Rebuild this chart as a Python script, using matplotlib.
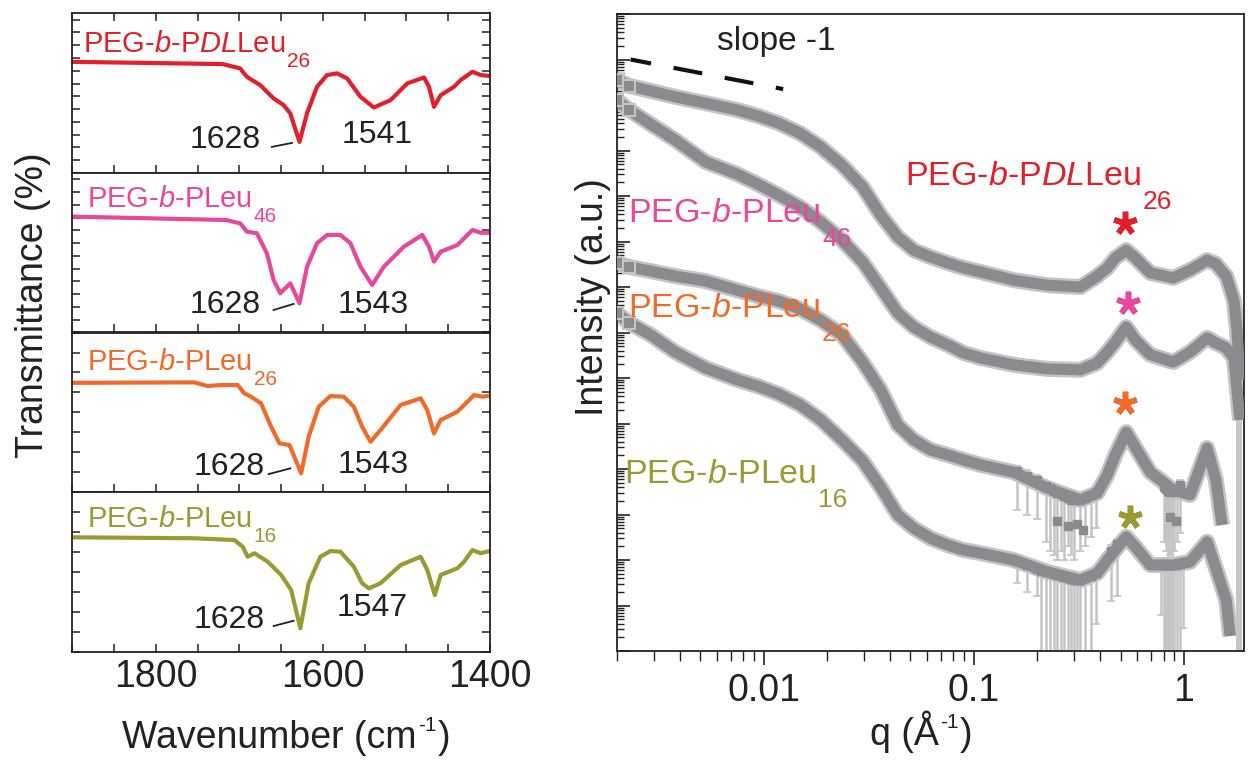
import numpy as np
import matplotlib
matplotlib.use('Agg')
import matplotlib.pyplot as plt
from matplotlib.transforms import IdentityTransform
from matplotlib.ticker import MultipleLocator, FixedLocator, NullFormatter, LogLocator, FuncFormatter

plt.rcParams['font.family'] = 'Liberation Sans'
plt.rcParams['axes.unicode_minus'] = False
plt.rcParams['mathtext.fontset'] = 'custom'
plt.rcParams['mathtext.rm'] = 'Liberation Sans'
plt.rcParams['mathtext.it'] = 'Liberation Sans:italic'

# ---------------- FTIR data (wavenumber, transmittance in panel units 0-100) ----------------
wn_dl26 = [1900, 1720, 1699, 1691, 1675, 1659, 1647, 1639, 1628, 1619, 1607, 1595, 1583, 1571,
           1555, 1539, 1519, 1499, 1479, 1473, 1467, 1459, 1443, 1435, 1421, 1411, 1399]
T_dl26 = [69.6, 68.2, 65.5, 60.2, 55.0, 46.7, 42.5, 37.3, 19.4, 37.3, 54.0, 61.3, 62.4, 59.2,
          47.7, 41.0, 45.6, 56.1, 59.8, 54.0, 41.4, 48.7, 54.0, 58.2, 63.4, 61.3, 60.7]

wn_l46 = [1900, 1716, 1699, 1691, 1679, 1667, 1659, 1651, 1639, 1628, 1619, 1607, 1595, 1579,
          1567, 1555, 1541, 1527, 1503, 1481, 1473, 1467, 1459, 1439, 1431, 1421, 1411, 1397]
T_l46 = [72.6, 70.5, 68.4, 63.2, 62.2, 49.6, 32.9, 24.6, 30.8, 18.3, 41.2, 55.9, 61.1, 61.1,
         55.9, 41.2, 29.8, 41.2, 53.8, 61.1, 53.8, 44.4, 50.6, 54.8, 59.0, 64.2, 62.5, 62.5]

wn_l26 = [1900, 1754, 1738, 1722, 1702, 1694, 1686, 1674, 1662, 1652, 1640, 1626, 1617, 1605,
          1591, 1575, 1563, 1553, 1543, 1531, 1507, 1483, 1475, 1467, 1459, 1439, 1429, 1419,
          1409, 1397]
T_l26 = [68.5, 68.8, 66.5, 67.1, 67.1, 61.9, 59.8, 55.6, 41.0, 30.6, 29.5, 11.8, 34.7, 53.5,
         60.2, 59.8, 53.5, 41.0, 31.6, 38.9, 54.6, 58.8, 51.4, 36.8, 45.2, 50.4, 55.6, 60.8,
         59.8, 60.8]

wn_l16 = [1900, 1754, 1706, 1696, 1690, 1682, 1666, 1650, 1638, 1627, 1617, 1603, 1591, 1579,
          1563, 1553, 1545, 1531, 1507, 1483, 1475, 1466, 1459, 1439, 1431, 1421, 1411, 1399]
T_l16 = [71.7, 71.1, 70.0, 65.8, 59.5, 61.7, 56.4, 48.1, 38.7, 14.7, 42.9, 59.5, 63.1, 62.7,
         53.3, 42.9, 39.7, 42.9, 54.3, 59.5, 51.2, 35.5, 48.1, 52.3, 56.4, 63.7, 61.7, 63.3]

# peak annotations: amide I / amide II positions
amide1 = ['1628', '1628', '1628', '1628']
amide2 = ['1541', '1543', '1543', '1547']

# ---------------- SAXS data (q in 1/A, log10 intensity, offset curves) ----------------
q_grid = [0.0020, 0.0023, 0.0029, 0.0038, 0.0053, 0.0075, 0.0094, 0.0118, 0.0149, 0.0187,
          0.0236, 0.0296, 0.0361, 0.0435, 0.0518, 0.0623, 0.0751, 0.0895, 0.108, 0.155,
          0.224, 0.322, 0.387, 0.432, 0.472, 0.532, 0.587, 0.692, 0.890, 1.07, 1.29, 1.42,
          1.59, 1.73]

q_dl26 = q_grid + [1.79, 1.85]
logI_dl26 = [12.55, 12.42, 12.31, 12.18, 12.04, 11.89, 11.76, 11.60, 11.38, 11.08, 10.68, 10.20,
             9.58, 9.10, 8.81, 8.66, 8.53, 8.42, 8.33, 8.15, 8.04, 8.00, 8.24, 8.42, 8.64, 8.81,
             8.64, 8.31, 8.20, 8.37, 8.59, 8.51, 8.24, 7.71, 7.05, 5.96]

q_l46 = q_grid + [1.79, 1.85]
logI_l46 = [12.11, 11.89, 11.58, 11.23, 10.75, 10.48, 10.26, 10.02, 9.76, 9.43, 9.03, 8.55,
            7.98, 7.43, 7.12, 6.90, 6.73, 6.55, 6.44, 6.29, 6.20, 6.18, 6.33, 6.57, 6.79, 7.12,
            6.84, 6.51, 6.35, 6.57, 6.88, 6.77, 6.66, 6.44, 5.74, 5.08]

q_l26 = q_grid[:32] + [1.52]
logI_l26 = [8.53, 8.44, 8.35, 8.24, 8.13, 7.93, 7.80, 7.69, 7.52, 7.27, 6.95, 6.35, 5.74, 4.97,
            4.64, 4.42, 4.31, 4.20, 4.09, 3.93, 3.58, 3.32, 3.47, 3.87, 4.31, 4.81, 4.48, 3.93,
            3.54, 3.43, 4.46, 3.76, 2.77]

q_l16 = q_grid[:33] + [1.66]
logI_l16 = [7.43, 7.21, 6.95, 6.57, 6.22, 5.96, 5.82, 5.65, 5.41, 5.08, 4.64, 4.18, 3.60, 2.99,
            2.70, 2.48, 2.33, 2.22, 2.15, 2.00, 1.74, 1.56, 1.71, 2.00, 2.22, 2.51, 2.29, 1.89,
            1.89, 1.96, 2.40, 1.82, 1.12, 0.33]

# noisy points with large (lower) error bars, log10 of point and of lower end
err_q_l26 = [0.16, 0.18, 0.20, 0.22, 0.23, 0.24, 0.25, 0.26, 0.27, 0.28, 0.29, 0.30, 0.32,
             0.34, 0.36, 0.38, 0.80, 0.82, 0.84, 0.86, 0.88, 0.90, 0.93, 0.96]
err_log_l26 = [3.95, 3.85, 3.75, 3.62, 3.58, 3.52, 3.48, 3.45, 3.40, 3.36, 3.33, 3.32, 3.33,
               3.36, 3.42, 3.50, 3.60, 3.56, 3.52, 3.50, 3.50, 3.52, 3.56, 3.64]
err_low_l26 = [3.1, 3.0, 2.9, 2.4, 2.2, 2.1, 2.0, 2.2, 2.0, 2.3, 2.1, 2.0, 2.2, 2.3, 2.5, 2.7,
               2.4, 2.2, 2.0, 2.1, 2.0, 2.2, 2.4, 2.6]

err_q_l16 = [0.16, 0.18, 0.20, 0.21, 0.22, 0.23, 0.24, 0.25, 0.26, 0.27, 0.28, 0.29, 0.30,
             0.31, 0.32, 0.34, 0.36, 0.38, 0.45, 0.48, 0.78, 0.80, 0.82, 0.84, 0.86, 0.88,
             0.90, 0.93, 0.96, 0.99]
err_log_l16 = [1.98, 1.88, 1.80, 1.76, 1.74, 1.72, 1.70, 1.67, 1.64, 1.62, 1.60, 1.58, 1.56,
               1.56, 1.57, 1.60, 1.66, 1.72, 2.20, 2.35, 1.92, 1.90, 1.89, 1.88, 1.88, 1.88,
               1.89, 1.90, 1.92, 1.95]
err_low_l16 = [1.5, 1.3, 1.2, -1, -1, -1, -1, -1, -1, -1, -1, -1, -1, -1, -1, -1, -1, 0.6,
               1.1, 1.2, 0.8, -1, -1, -1, -1, -1, -1, -1, -1, 0.5]

tail_q = [1.79, 1.85]
tail_low = [-1, -1]

out_q_l26 = [0.25, 0.28, 0.31, 0.33, 0.86, 0.92]
out_log_l26 = [2.85, 2.75, 2.80, 2.65, 2.95, 2.85]

# asterisks marking the peak
star_q = [0.526, 0.542, 0.526, 0.552]
star_log = [9.41, 7.65, 5.45, 2.95]

# slope -1 guide
slope_q = [0.00233, 0.0124]
slope_log = [13.00, 12.35]

# sample names and their subscripts
name_main = [r'PEG-$\mathit{b}$-P$\mathit{DL}$Leu', r'PEG-$\mathit{b}$-PLeu',
             r'PEG-$\mathit{b}$-PLeu', r'PEG-$\mathit{b}$-PLeu']
name_sub = ['26', '46', '26', '16']
colors = ['#e3202a', '#e8479b', '#f26a2a', '#9a9a33']

dark = '#8b8b8f'
light = '#c4c4c7'
frame = '#222222'
ink = '#222222'

fig = plt.figure(figsize=(12.48, 7.61), dpi=100)
renderer = fig.canvas.get_renderer()
H = fig.bbox.height


def rich(x, y, pieces, color=ink, ha='left'):
    # pieces: (text, fontsize, raise in px); x, y = baseline position, px from top-left
    texts = []
    for s, fs, dy in pieces:
        t = fig.text(0, 0, s, fontsize=fs, color=color, ha='left', va='baseline',
                     transform=IdentityTransform(), zorder=10)
        texts.append((t, dy))
    widths = [t.get_window_extent(renderer).width + 1.5 for t, _ in texts]
    x0 = x - sum(widths) / 2 if ha == 'center' else x
    for (t, dy), w in zip(texts, widths):
        t.set_position((x0, H - y + dy))
        x0 += w


def sample_label(i, x, y, fs, sfs, drop):
    rich(x, y, [(name_main[i], fs, 0), (name_sub[i], sfs, -drop)], color=colors[i])


# ================= left: FTIR =================
ir_wn = [wn_dl26, wn_l46, wn_l26, wn_l16]
ir_T = [T_dl26, T_l46, T_l26, T_l16]
bottoms = [0.7728, 0.5631, 0.3533, 0.1436]
tick_step = [8, 8, 12.5, 12.5]
left_lab = [(83, 51.7), (87, 207), (87, 370), (87, 527)]
a1_pos = [(1717, 20.5), (1717, 17.2), (1712, 15.7), (1712, 19.9)]
a2_pos = [(1535, 23.6), (1540, 17.2), (1540, 17.0), (1541, 27.4)]
lead = [((1661, 16.3), (1637, 18.8)), ((1659, 14.1), (1635, 17.9)),
        ((1665, 11.3), (1639, 14.9)), ((1659, 16.1), (1635, 19.4))]

for i in range(4):
    ax = fig.add_axes([0.0579, bottoms[i], 0.3347, 0.2097])
    ax.plot(ir_wn[i], ir_T[i], color=colors[i], lw=3, solid_joinstyle='round')
    ax.set_xlim(1900, 1400)
    ax.set_ylim(0, 100)
    ax.xaxis.set_major_locator(FixedLocator([1800, 1600, 1400]))
    ax.xaxis.set_minor_locator(MultipleLocator(50))
    ax.yaxis.set_major_locator(MultipleLocator(tick_step[i]))
    ax.yaxis.set_major_formatter(NullFormatter())
    ax.tick_params(axis='both', which='both', direction='in', top=(i == 0), right=True,
                   length=6, width=1.1, color=frame, labelsize=27, pad=5,
                   labelbottom=(i == 3), labelcolor=ink)
    for s in ax.spines.values():
        s.set_linewidth(1.3)
        s.set_color(frame)
    ax.text(a1_pos[i][0], a1_pos[i][1], amide1[i], fontsize=23, ha='center', va='center', color=ink)
    ax.text(a2_pos[i][0], a2_pos[i][1], amide2[i], fontsize=23, ha='center', va='center', color=ink)
    (x0, y0), (x1, y1) = lead[i]
    ax.plot([x0, x1], [y0, y1], color=ink, lw=1.3)
    sample_label(i, left_lab[i][0], left_lab[i][1], 21, 15, 15)

fig.text(0.0268, 0.5992, 'Transmittance (%)', rotation=90, fontsize=27,
         ha='center', va='center', color=ink)
rich(287, 748, [('Wavenumber (cm', 27, 0), ('-1', 15, 17), (')', 27, 0)], ha='center')

# ================= right: SAXS =================
ax = fig.add_axes([0.4941, 0.1445, 0.5026, 0.8371])
ax.set_xscale('log')
ax.set_yscale('log')

curves = [(q_dl26, logI_dl26), (q_l46, logI_l46), (q_l26, logI_l26), (q_l16, logI_l16)]


def draw_err(q, logv, low):
    v = 10 ** np.array(logv)
    lo = v - 10 ** np.array(low, dtype=float)
    hi = 10 ** (np.array(logv) + 0.12) - v
    ax.errorbar(q, v, yerr=[lo, hi], fmt='none', ecolor=light, elinewidth=1.8,
                capsize=3, capthick=1.2, zorder=1)


draw_err(err_q_l26, err_log_l26, err_low_l26)
draw_err(err_q_l16, err_log_l16, err_low_l16)
draw_err(tail_q, logI_dl26[-2:], tail_low)
draw_err(tail_q, logI_l46[-2:], tail_low)

for q, lg in curves:
    I = 10 ** np.array(lg)
    ax.plot(q, I, color=light, lw=11.5, solid_joinstyle='round', solid_capstyle='butt', zorder=2)
for q, lg in curves:
    I = 10 ** np.array(lg)
    ax.plot(q, I, color=dark, lw=8, solid_joinstyle='round', solid_capstyle='butt', zorder=3)
    ax.plot(q[:2], I[:2], ls='none', marker='s', ms=9, mfc=dark, mec=light, mew=1.5, zorder=4)

ax.plot(err_q_l26, 10 ** np.array(err_log_l26), ls='none', marker='s', ms=6, color=dark, zorder=3)
ax.plot(err_q_l16, 10 ** np.array(err_log_l16), ls='none', marker='s', ms=6, color=dark, zorder=3)
ax.plot(out_q_l26, 10 ** np.array(out_log_l26), ls='none', marker='s', ms=6, color=dark, zorder=3)

for i in range(4):
    ax.plot(star_q[i], 10 ** star_log[i], marker=(5, 2, 0), ms=17, mew=4, color=colors[i],
            ls='none', zorder=6)

ax.plot(slope_q, 10 ** np.array(slope_log), color='#111111', lw=3, ls=(2, (7, 5.5)), zorder=6)
ax.text(0.254, 0.9435, 'slope -1', transform=ax.transAxes, fontsize=24, ha='center',
        va='baseline', color=ink)

ax.set_xlim(0.002, 1.93)
ax.set_ylim(1, 1e14)
ax.yaxis.set_major_locator(LogLocator(base=10, numticks=30))
ax.yaxis.set_minor_locator(LogLocator(base=10, subs=np.arange(2, 10), numticks=30))
ax.yaxis.set_major_formatter(NullFormatter())
ax.yaxis.set_minor_formatter(NullFormatter())
ax.xaxis.set_major_formatter(FuncFormatter(lambda v, p: '%g' % v))
ax.xaxis.set_minor_formatter(NullFormatter())
ax.tick_params(axis='y', which='major', direction='in', length=9, width=1.2, color=frame,
               left=True, right=False)
ax.tick_params(axis='y', which='minor', direction='in', length=5, width=1.0, color=frame,
               left=True, right=False)
ax.tick_params(axis='x', which='major', direction='out', length=10, width=1.2, color=frame,
               labelsize=27, pad=6, labelcolor=ink)
ax.tick_params(axis='x', which='minor', direction='out', length=7, width=1.0, color=frame)
for s in ax.spines.values():
    s.set_linewidth(1.3)
    s.set_color(frame)

right_lab = [(905, 185), (628, 222), (628, 317), (623.5, 483)]
for i in range(4):
    sample_label(i, right_lab[i][0], right_lab[i][1], 24.5, 19, 24)

fig.text(0.4752, 0.6097, 'Intensity (a.u.)', rotation=90, fontsize=27, ha='center',
         va='center', color=ink)
rich(922, 745, [('q (Å', 27, 0), ('-1', 15, 17), (')', 27, 0)], ha='center')

plt.savefig('out.png', dpi=100)
